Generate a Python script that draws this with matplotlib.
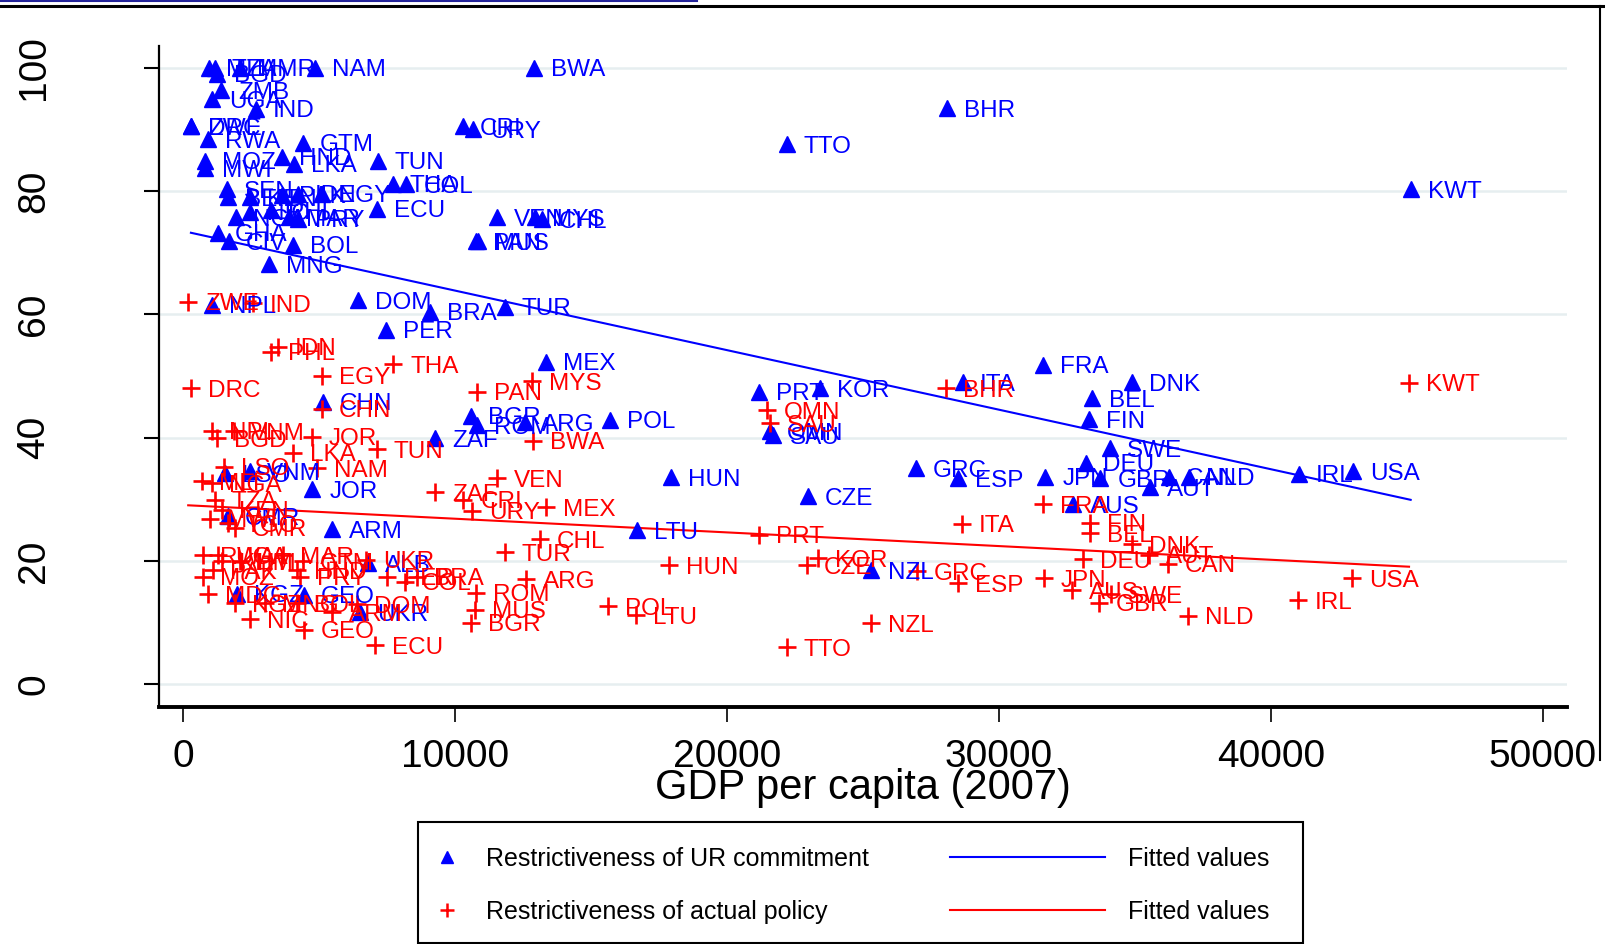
import numpy as np
import matplotlib
matplotlib.use("Agg")
import matplotlib.pyplot as plt
from matplotlib.lines import Line2D
from matplotlib.patches import Rectangle

plt.rcParams['font.family'] = ['Liberation Sans', 'DejaVu Sans']

# Restrictiveness of UR commitment (blue triangles)
ur_countries = ["MLI", "TZA", "MMR", "NAM", "BWA", "BGD", "ZMB", "UGA", "IND", "DRC",
                "ZWE", "RWA", "GTM", "HND", "LKA", "TUN", "MOZ", "MWI", "THA", "COL",
                "SEN", "BEN", "KEN", "PAK", "IDN", "EGY", "ECU", "NGA", "NIC", "PHL",
                "MAR", "PRY", "GHA", "CIV", "BOL", "MNG", "VEN", "MYS", "CHL", "CRI",
                "URY", "PAN", "MUS", "TTO", "BHR", "KWT", "BRA", "TUR", "DOM", "PER",
                "NPL", "CHN", "BGR", "ROM", "ARG", "POL", "ZAF", "MEX", "HUN", "CZE",
                "LTU", "PRT", "KOR", "OMN", "SAU", "NZL", "GRC", "ESP", "ITA", "FRA",
                "DNK", "BEL", "FIN", "SWE", "DEU", "JPN", "GBR", "CAN", "NLD", "AUT",
                "AUS", "IRL", "USA", "LSO", "VNM", "JOR", "CMR", "ARM", "ALB", "GEO",
                "KGZ", "UKR"]
ur_gdp = [950, 1150, 2100, 4860, 12890, 1240, 1390, 1050, 2680, 280,
          300, 900, 4400, 3620, 4070, 7160, 800, 800, 7700, 8200,
          1600, 1650, 2450, 3620, 4220, 5090, 7120, 1930, 2450, 3220,
          3900, 4200, 1280, 1680, 4030, 3150, 11530, 12930, 13190, 10290,
          10660, 10780, 10850, 22190, 28090, 45140, 9080, 11830, 6420, 7460,
          1050, 5120, 10590, 10800, 12570, 15700, 9260, 13340, 17940, 22980,
          16700, 21180, 23420, 21590, 21700, 25300, 26940, 28500, 28670, 31620,
          34900, 33420, 33310, 34080, 33210, 31700, 33730, 36240, 36970, 35560,
          32720, 41020, 43030, 1530, 2450, 4740, 1650, 5460, 6800, 4440,
          1960, 6500]
ur_score = [100, 100, 100, 100, 100, 99, 96.3, 94.9, 93.3, 90.5,
            90.5, 88.4, 87.8, 85.5, 84.4, 84.9, 84.9, 83.7, 81.2, 81.1,
            80.3, 79.0, 79.0, 79.4, 79.5, 79.5, 77.1, 75.7, 76.6, 76.9,
            75.7, 75.5, 73.2, 71.8, 71.3, 68.1, 75.7, 75.7, 75.4, 90.5,
            90.0, 71.8, 71.8, 87.6, 93.4, 80.3, 60.4, 61.2, 62.3, 57.5,
            61.5, 45.8, 43.5, 42.0, 42.5, 42.9, 39.9, 52.3, 33.6, 30.5,
            25.0, 47.4, 48.0, 41.0, 40.4, 18.5, 35.0, 33.4, 49.0, 51.8,
            49.0, 46.4, 43.0, 38.3, 35.9, 33.65, 33.4, 33.65, 33.65, 31.9,
            29.2, 34.1, 34.5, 34.2, 34.5, 31.6, 27.2, 25.1, 19.6, 14.5,
            14.7, 11.7]

# Restrictiveness of actual policy (red pluses)
ap_countries = ["ZWE", "IND", "IDN", "PHL", "EGY", "THA", "DRC", "CHN", "PAN", "MYS",
                "BWA", "NPL", "VNM", "BGD", "JOR", "TUN", "LKA", "LSO", "NAM", "MLI",
                "NGA", "TZA", "MWI", "KEN", "TGO", "CMR", "ZAF", "CRI", "URY", "VEN",
                "MEX", "CHL", "TUR", "UKR", "RWA", "UGA", "MAR", "KHM", "HTI", "GTM",
                "PAK", "HND", "MOZ", "PRY", "PER", "COL", "BRA", "ARG", "ROM", "MUS",
                "BGR", "ECU", "GEO", "NIC", "MDG", "KGZ", "MNG", "BOL", "ARM", "DOM",
                "HUN", "POL", "LTU", "PRT", "OMN", "SAU", "CZE", "KOR", "TTO", "NZL",
                "GRC", "ESP", "ITA", "BHR", "FRA", "FIN", "BEL", "DNK", "AUT", "DEU",
                "CAN", "JPN", "AUS", "SWE", "GBR", "NLD", "IRL", "USA", "KWT"]
ap_gdp = [180, 2570, 3490, 3210, 5090, 7720, 270, 5090, 10790, 12810,
          12850, 1040, 1850, 1230, 4720, 7110, 4020, 1500, 4900, 670,
          1040, 1160, 980, 1410, 1650, 1900, 9260, 10300, 10610, 11530,
          13340, 13120, 11830, 6720, 730, 1290, 3680, 1410, 2080, 4410,
          1100, 4170, 730, 4300, 7480, 8150, 8600, 12610, 10770, 10730,
          10570, 7050, 4440, 2450, 920, 1900, 3000, 4170, 5460, 6400,
          17880, 15630, 16650, 21190, 21460, 21580, 22930, 23360, 22190, 25290,
          26980, 28510, 28630, 28040, 31620, 33350, 33350, 34900, 35530, 33100,
          36200, 31660, 32680, 34130, 33670, 36940, 40990, 43000, 45080]
ap_score = [62.0, 61.8, 54.7, 53.9, 50.0, 51.9, 48.0, 44.7, 47.4, 49.1,
            39.5, 41.1, 41.0, 39.9, 40.1, 38.1, 37.5, 35.3, 35.0, 32.9,
            32.6, 29.9, 26.8, 28.3, 26.1, 25.4, 31.1, 29.9, 28.1, 33.4,
            28.7, 23.5, 21.4, 20.2, 20.9, 20.9, 20.9, 19.9, 19.9, 19.9,
            18.5, 18.5, 17.4, 17.4, 17.4, 16.6, 17.4, 17.0, 14.85, 12.1,
            10.0, 6.35, 8.8, 10.5, 14.6, 13.1, 13.1, 13.1, 11.7, 13.0,
            19.3, 12.6, 11.2, 24.2, 44.4, 42.3, 19.3, 20.4, 6.0, 9.9,
            18.3, 16.4, 26.0, 48.0, 29.2, 26.2, 24.5, 22.7, 21.0, 20.3,
            19.5, 17.2, 15.2, 14.6, 13.2, 11.1, 13.65, 17.2, 48.9]

x_ticks = [0, 10000, 20000, 30000, 40000, 50000]
y_ticks = [0, 20, 40, 60, 80, 100]

BLUE = "#0000ff"
RED = "#ff0000"

fig = plt.figure(figsize=(16.06, 9.44), dpi=100)
ax = fig.add_axes([159 / 1606, 1 - 707 / 944, (1567 - 159) / 1606, (707 - 46) / 944])

# scatter points
ax.plot(ur_gdp, ur_score, linestyle='none', marker='^', markersize=11.5,
        color=BLUE, zorder=3)
ax.plot(ap_gdp, ap_score, linestyle='none', marker='+', markersize=12.5,
        markeredgewidth=1.9, color=RED, zorder=3)

# country labels to the right of each marker
for name, x, y in zip(ur_countries, ur_gdp, ur_score):
    ax.annotate(name, (x, y), xytext=(17, 0), textcoords='offset pixels',
                ha='left', va='center_baseline', fontsize=17.5, color=BLUE, zorder=4)
for name, x, y in zip(ap_countries, ap_gdp, ap_score):
    ax.annotate(name, (x, y), xytext=(17, 0), textcoords='offset pixels',
                ha='left', va='center_baseline', fontsize=17.5, color=RED, zorder=4)

# linear fits
for gdp, score, col in [(ur_gdp, ur_score, BLUE), (ap_gdp, ap_score, RED)]:
    b, a = np.polyfit(gdp, score, 1)
    xs = np.array([min(gdp), max(gdp)])
    ax.plot(xs, a + b * xs, color=col, linewidth=1.5, zorder=2)

ax.set_xlim(-894, 50890)
ax.set_ylim(-3.7, 103.5)
ax.set_xticks(x_ticks)
ax.set_xticklabels([str(t) for t in x_ticks])
ax.set_yticks(y_ticks)
ax.set_yticklabels([str(t) for t in y_ticks], rotation=90, va='center')
ax.tick_params(axis='x', direction='out', length=11, width=1.2, pad=12, labelsize=28)
ax.tick_params(axis='y', direction='out', length=11, width=1.5, pad=66, labelsize=28)
for lbl in ax.get_yticklabels():
    lbl.set_y(lbl.get_position()[1])

ax.grid(axis='y', color='#e6eef0', linewidth=1.8, zorder=0)
ax.set_axisbelow(True)
ax.spines['top'].set_visible(False)
ax.spines['right'].set_visible(False)
ax.spines['left'].set_linewidth(1.6)
ax.spines['bottom'].set_linewidth(2.8)

ax.set_xlabel("GDP per capita (2007)", fontsize=30, labelpad=-5)

# legend in two parts inside one frame
marker_handles = [Line2D([], [], linestyle='none', marker='^', markersize=8, color=BLUE),
                  Line2D([], [], linestyle='none', marker='+', markersize=10,
                         markeredgewidth=1.8, color=RED)]
line_handles = [Line2D([], [], color=BLUE, linewidth=1.5),
                Line2D([], [], color=RED, linewidth=1.5)]
leg1 = fig.legend(marker_handles,
                  ["Restrictiveness of UR commitment", "Restrictiveness of actual policy"],
                  loc='upper left', bbox_to_anchor=(436 / 1606, 1 - 847 / 944),
                  frameon=False, fontsize=18, handlelength=0.9, handletextpad=1.1,
                  labelspacing=1.15, borderpad=0, borderaxespad=0)
leg2 = fig.legend(line_handles, ["Fitted values", "Fitted values"],
                  loc='upper left', bbox_to_anchor=(950 / 1606, 1 - 847 / 944),
                  frameon=False, fontsize=18, handlelength=6.2, handletextpad=0.9,
                  labelspacing=1.15, borderpad=0, borderaxespad=0)
fig.add_artist(Rectangle((418 / 1606, 1.5 / 944), 885 / 1606, (944 - 821.5 - 1.5) / 944,
                         transform=fig.transFigure, fill=False, edgecolor='black',
                         linewidth=1.5))

# slide border remnants
fig.add_artist(Line2D([0, 697 / 1606], [1 - 1 / 944, 1 - 1 / 944], transform=fig.transFigure,
                      color='#23239a', linewidth=1.5))
fig.add_artist(Line2D([0, 1], [1 - 5.5 / 944, 1 - 5.5 / 944], transform=fig.transFigure,
                      color='black', linewidth=2.2))
fig.add_artist(Line2D([1600 / 1606, 1600 / 1606], [1 - 5.5 / 944, 1 - 760 / 944],
                      transform=fig.transFigure, color='black', linewidth=1.5))

plt.savefig("out.png", dpi=100)
plt.close(fig)
